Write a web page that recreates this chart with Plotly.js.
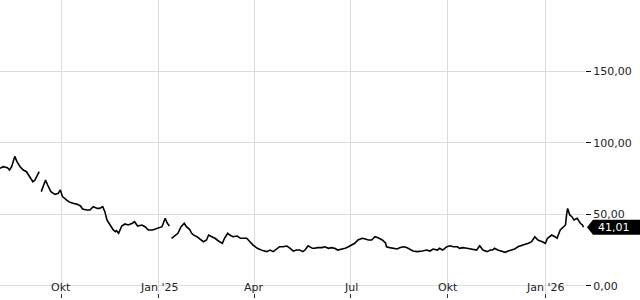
<!DOCTYPE html>
<html>
<head>
<meta charset="utf-8">
<script src="https://cdn.plot.ly/plotly-3.0.1.min.js"></script>
<style>html,body{margin:0;padding:0;background:#fff;}#chart{width:640px;height:300px;}</style>
</head>
<body>
<div id="chart"></div>
<script>
// Price series (dates, values); null marks a break in the line
const dates = [
"2024-08-04","2024-08-07","2024-08-11","2024-08-13","2024-08-15","2024-08-18","2024-08-20","2024-08-23","2024-08-26","2024-08-29",
"2024-09-01","2024-09-04","2024-09-06","2024-09-08","2024-09-10","2024-09-11","2024-09-12","2024-09-14","2024-09-16","2024-09-18",
"2024-09-21","2024-09-25","2024-09-28","2024-09-30","2024-10-02","2024-10-06","2024-10-09","2024-10-12","2024-10-16","2024-10-19",
"2024-10-21","2024-10-25","2024-10-28","2024-10-31","2024-11-04","2024-11-06","2024-11-09","2024-11-11","2024-11-13","2024-11-16",
"2024-11-19","2024-11-21","2024-11-22","2024-11-24","2024-11-27","2024-11-30","2024-12-03","2024-12-07","2024-12-09","2024-12-12",
"2024-12-16","2024-12-19","2024-12-22","2024-12-26","2024-12-28","2024-12-31","2025-01-04","2025-01-07","2025-01-09","2025-01-11",
"2025-01-12","2025-01-13","2025-01-15","2025-01-19","2025-01-22","2025-01-25","2025-01-27","2025-01-30","2025-02-01","2025-02-03",
"2025-02-06","2025-02-09","2025-02-12","2025-02-15","2025-02-17","2025-02-20","2025-02-23","2025-02-26","2025-03-02","2025-03-04",
"2025-03-07","2025-03-09","2025-03-12","2025-03-16","2025-03-19","2025-03-21","2025-03-25","2025-03-28","2025-03-31","2025-04-04",
"2025-04-07","2025-04-09","2025-04-13","2025-04-16","2025-04-19","2025-04-23","2025-04-25","2025-04-28","2025-05-02","2025-05-05",
"2025-05-08","2025-05-11","2025-05-14","2025-05-17","2025-05-19","2025-05-22","2025-05-26","2025-05-28","2025-05-31","2025-06-04",
"2025-06-07","2025-06-10","2025-06-13","2025-06-16","2025-06-19","2025-06-23","2025-06-26","2025-06-29","2025-07-02","2025-07-05",
"2025-07-08","2025-07-12","2025-07-15","2025-07-18","2025-07-21","2025-07-24","2025-07-27","2025-07-31","2025-08-03","2025-08-04",
"2025-08-07","2025-08-10","2025-08-14","2025-08-17","2025-08-20","2025-08-23","2025-08-26","2025-08-29","2025-09-02","2025-09-05",
"2025-09-07","2025-09-11","2025-09-14","2025-09-17","2025-09-21","2025-09-23","2025-09-26","2025-09-30","2025-10-03","2025-10-06",
"2025-10-10","2025-10-12","2025-10-15","2025-10-19","2025-10-22","2025-10-25","2025-10-28","2025-10-31","2025-11-03","2025-11-07",
"2025-11-10","2025-11-12","2025-11-14","2025-11-17","2025-11-21","2025-11-24","2025-11-27","2025-11-30","2025-12-03","2025-12-06",
"2025-12-10","2025-12-13","2025-12-16","2025-12-19","2025-12-22","2025-12-25","2025-12-29","2026-01-01","2026-01-03","2026-01-07",
"2026-01-10","2026-01-12","2026-01-15","2026-01-18","2026-01-20","2026-01-21","2026-01-22","2026-01-24","2026-01-26","2026-01-28",
"2026-01-31","2026-02-03","2026-02-05","2026-02-06"
];
const prices = [
82.2,83.3,82.6,81.0,83.3,90.5,86.8,83.3,81.0,79.8,
76.3,72.8,74.0,77.0,79.8,null,65.9,69.3,74.0,70.5,
65.9,64.0,64.7,67.0,62.4,60.0,58.4,57.7,57.0,55.9,
53.8,53.1,53.1,55.4,54.2,54.2,55.4,51.9,46.1,42.6,
39.1,37.9,38.6,36.8,41.9,43.3,42.6,43.8,44.9,41.9,
42.6,41.4,39.1,39.1,39.6,40.3,41.4,47.3,43.8,41.9,
null,33.3,34.4,36.8,41.4,43.8,41.4,39.6,36.8,35.5,
34.4,32.6,30.9,32.1,35.6,34.4,33.3,31.6,29.8,33.3,
36.8,35.6,34.4,34.9,33.3,33.3,33.3,30.9,28.6,26.3,
25.1,24.7,24.0,25.1,24.0,26.3,27.4,27.4,27.9,26.3,
24.4,25.1,25.1,24.0,25.1,28.1,26.3,26.3,26.8,26.8,
27.4,26.3,26.8,26.3,25.1,25.8,26.3,27.4,28.6,29.8,
32.1,33.3,32.8,32.1,32.1,34.4,33.7,32.1,30.0,27.4,
26.8,26.3,25.8,26.8,27.4,26.8,25.8,24.4,24.0,24.0,
24.4,25.1,24.4,25.8,25.1,26.3,25.1,27.4,28.1,27.4,
27.4,26.3,26.8,26.3,25.8,25.8,25.1,28.1,25.1,24.0,
25.1,25.1,26.3,25.1,24.0,23.5,24.4,25.1,25.8,27.4,
28.6,29.1,29.8,30.9,34.4,32.1,30.9,29.8,33.3,35.6,
34.4,33.3,39.1,41.4,42.6,49.6,54.2,49.6,48.4,46.1,
47.3,43.8,42.6,41.01
];
const xTickVals = ["2024-10-01","2025-01-01","2025-04-01","2025-07-01","2025-10-01","2026-01-01"];
const xTickText = ["Okt","Jan '25","Apr","Jul","Okt","Jan '26"];
const yTickVals = [0,50,100,150];
const lastPrice = 41.01;

const yMin = -4.9, yMax = 199.7;
const font = {family: "DejaVu Sans", size: 11, color: "#222"};

const trace = {
  x: dates, y: prices, type: "scatter", mode: "lines",
  line: {color: "#000", width: 1.6}, connectgaps: false, hoverinfo: "skip"
};

// last-price tag (arrow-shaped box on the right)
const py = (lastPrice - yMin) / (yMax - yMin);
const hh = 7.5 / 293;
const tag = "M 1.0034," + py + " L 1.0137," + (py + hh) + " L 1.1,"+ (py + hh) +
            " L 1.1," + (py - hh) + " L 1.0137," + (py - hh) + " Z";

// x tick labels drawn inside the plot, just above the tick marks
const xLabels = xTickVals.map((v, i) => ({
  xref: "x", yref: "paper", x: v, y: 5.5 / 293,
  xanchor: "center", yanchor: "middle", showarrow: false,
  text: xTickText[i], font: font
}));

const layout = {
  width: 640, height: 300,
  margin: {l: 0, r: 55, t: 0, b: 7, pad: 0},
  paper_bgcolor: "#fff", plot_bgcolor: "#fff",
  separators: ",.",
  font: font,
  showlegend: false,
  xaxis: {
    type: "date", range: ["2024-08-04", "2026-02-07 10:00"],
    tickvals: xTickVals, showticklabels: false,
    ticks: "outside", ticklen: 4, tickcolor: "#333", tickwidth: 1,
    showgrid: true, gridcolor: "#dcdcdc", gridwidth: 1,
    zeroline: false, showline: false, fixedrange: true
  },
  yaxis: {
    side: "right", range: [yMin, yMax],
    tickvals: yTickVals, tickformat: ".2f",
    ticks: "outside", ticklen: 5, tickcolor: "#000", tickwidth: 1,
    showgrid: true, gridcolor: "#dcdcdc", gridwidth: 1,
    zeroline: false, showline: false, fixedrange: true,
    tickfont: font
  },
  shapes: [{
    type: "path", xref: "paper", yref: "paper", path: tag,
    fillcolor: "#000", line: {width: 0}, layer: "above"
  }],
  annotations: xLabels.concat([{
    xref: "paper", yref: "paper", x: 1.019, y: py,
    xanchor: "left", yanchor: "middle", showarrow: false,
    text: lastPrice.toFixed(2).replace(".", ","),
    font: {family: "DejaVu Sans", size: 11, color: "#fff"}
  }])
};

Plotly.newPlot("chart", [trace], layout, {displayModeBar: false, staticPlot: true});
</script>
</body>
</html>
